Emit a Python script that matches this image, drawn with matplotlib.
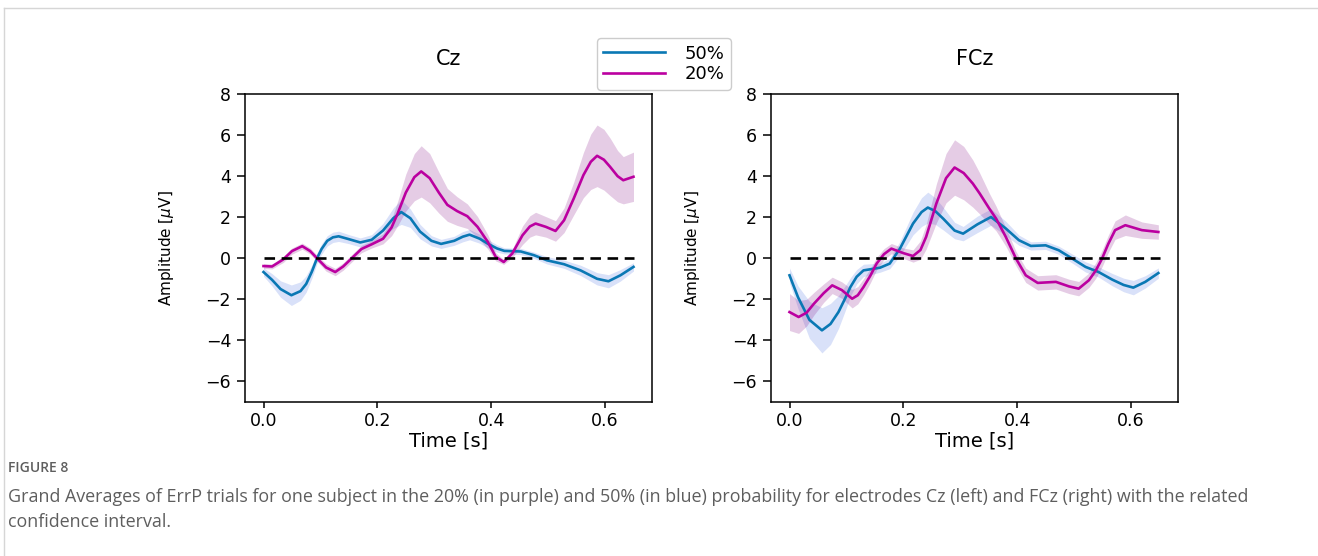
import numpy as np
import matplotlib
matplotlib.use("Agg")
import matplotlib.pyplot as plt
from matplotlib.lines import Line2D
from matplotlib import font_manager

# ---- data (time [s], mean [uV], CI half-width [uV]) ----
cz_50_t = [0.000, 0.015, 0.030, 0.049, 0.065, 0.075, 0.085, 0.094, 0.102, 0.112,
           0.122, 0.132, 0.150, 0.170, 0.190, 0.210, 0.228, 0.242, 0.258, 0.275,
           0.295, 0.312, 0.335, 0.350, 0.362, 0.380, 0.394, 0.410, 0.423, 0.452,
           0.475, 0.498, 0.528, 0.557, 0.586, 0.606, 0.627, 0.650]
cz_50_v = [-0.67, -1.05, -1.50, -1.80, -1.60, -1.25, -0.65, 0.00, 0.45, 0.85,
           1.02, 1.07, 0.93, 0.77, 0.90, 1.35, 1.95, 2.25, 1.95, 1.30,
           0.85, 0.70, 0.85, 1.05, 1.15, 0.95, 0.71, 0.48, 0.36, 0.33,
           0.15, -0.10, -0.29, -0.59, -1.00, -1.12, -0.83, -0.42]
cz_50_ci = [0.20, 0.30, 0.40, 0.50, 0.45, 0.40, 0.32, 0.25, 0.25, 0.25,
            0.25, 0.25, 0.22, 0.22, 0.25, 0.35, 0.50, 0.60, 0.45, 0.35,
            0.25, 0.22, 0.22, 0.25, 0.25, 0.22, 0.20, 0.18, 0.15, 0.15,
            0.15, 0.18, 0.20, 0.25, 0.30, 0.32, 0.28, 0.20]

cz_20_t = [0.000, 0.015, 0.035, 0.050, 0.068, 0.082, 0.094, 0.110, 0.126, 0.140,
           0.155, 0.172, 0.190, 0.210, 0.225, 0.236, 0.250, 0.265, 0.277, 0.292,
           0.308, 0.323, 0.340, 0.358, 0.376, 0.394, 0.408, 0.422, 0.437, 0.455,
           0.468, 0.478, 0.496, 0.513, 0.528, 0.545, 0.562, 0.575, 0.586, 0.598,
           0.609, 0.622, 0.632, 0.650]
cz_20_v = [-0.38, -0.40, -0.05, 0.35, 0.59, 0.35, 0.00, -0.45, -0.67, -0.40,
           0.00, 0.45, 0.68, 0.95, 1.50, 2.20, 3.20, 3.95, 4.23, 3.90,
           3.20, 2.60, 2.30, 2.05, 1.53, 0.80, 0.07, -0.18, 0.23, 1.12,
           1.55, 1.69, 1.53, 1.33, 1.85, 2.91, 4.05, 4.70, 4.99, 4.80,
           4.45, 4.00, 3.80, 3.97]
cz_20_ci = [0.12, 0.12, 0.15, 0.15, 0.15, 0.15, 0.15, 0.18, 0.18, 0.18,
            0.18, 0.18, 0.18, 0.25, 0.40, 0.60, 0.90, 1.15, 1.25, 1.20,
            1.00, 0.80, 0.70, 0.60, 0.50, 0.35, 0.20, 0.12, 0.20, 0.45,
            0.52, 0.55, 0.50, 0.50, 0.60, 0.80, 1.10, 1.35, 1.50, 1.48,
            1.40, 1.25, 1.15, 1.20]

fcz_50_t = [0.000, 0.015, 0.035, 0.057, 0.072, 0.086, 0.097, 0.107, 0.118, 0.130,
            0.159, 0.176, 0.194, 0.217, 0.232, 0.243, 0.256, 0.270, 0.290, 0.305,
            0.330, 0.354, 0.380, 0.403, 0.424, 0.450, 0.473, 0.497, 0.520, 0.543,
            0.567, 0.587, 0.604, 0.625, 0.648]
fcz_50_v = [-0.83, -1.90, -3.00, -3.51, -3.20, -2.62, -2.00, -1.40, -0.90, -0.59,
            -0.46, -0.26, 0.47, 1.69, 2.25, 2.47, 2.30, 1.93, 1.35, 1.20,
            1.65, 2.01, 1.45, 0.88, 0.60, 0.63, 0.39, -0.02, -0.42, -0.67,
            -1.04, -1.30, -1.43, -1.15, -0.72]
fcz_50_ci = [0.35, 0.55, 0.90, 1.10, 1.00, 0.80, 0.62, 0.45, 0.35, 0.30,
             0.22, 0.25, 0.35, 0.55, 0.70, 0.75, 0.65, 0.55, 0.40, 0.35,
             0.40, 0.40, 0.35, 0.25, 0.20, 0.20, 0.20, 0.22, 0.25, 0.25,
             0.30, 0.33, 0.35, 0.30, 0.25]

fcz_20_t = [0.000, 0.016, 0.030, 0.043, 0.060, 0.075, 0.092, 0.110, 0.120, 0.130,
            0.142, 0.153, 0.166, 0.179, 0.200, 0.217, 0.230, 0.240, 0.258, 0.275,
            0.290, 0.306, 0.322, 0.334, 0.351, 0.363, 0.380, 0.398, 0.415, 0.436,
            0.468, 0.491, 0.508, 0.526, 0.538, 0.549, 0.560, 0.572, 0.590, 0.619,
            0.648]
fcz_20_v = [-2.62, -2.86, -2.65, -2.21, -1.70, -1.32, -1.55, -1.97, -1.80, -1.40,
            -0.85, -0.26, 0.20, 0.47, 0.25, 0.11, 0.40, 1.04, 2.67, 3.90,
            4.42, 4.15, 3.64, 3.16, 2.42, 1.93, 1.04, -0.02, -0.83, -1.20,
            -1.15, -1.37, -1.48, -1.07, -0.60, -0.02, 0.70, 1.37, 1.61, 1.37,
            1.28]
fcz_20_ci = [0.90, 0.80, 0.65, 0.55, 0.45, 0.40, 0.40, 0.45, 0.42, 0.40,
             0.35, 0.30, 0.27, 0.25, 0.25, 0.30, 0.45, 0.60, 0.95, 1.20,
             1.35, 1.30, 1.15, 1.00, 0.75, 0.60, 0.45, 0.35, 0.35, 0.35,
             0.35, 0.35, 0.35, 0.35, 0.38, 0.40, 0.42, 0.45, 0.50, 0.40,
             0.35]

T_END = 0.65
YTICKS = [-6, -4, -2, 0, 2, 4, 6, 8]
XTICKS = [0.0, 0.2, 0.4, 0.6]

COLOR_50 = "#0a78b4"
COLOR_20 = "#bb00a0"
FILL_50 = "royalblue"
FILL_20 = "purple"

CAPTION_HEAD = "FIGURE 8"
CAPTION_1 = ("Grand Averages of ErrP trials for one subject in the 20% (in purple) and 50% "
             "(in blue) probability for electrodes Cz (left) and FCz (right) with the related")
CAPTION_2 = "confidence interval."

panels = [
    ("Cz", (cz_50_t, cz_50_v, cz_50_ci), (cz_20_t, cz_20_v, cz_20_ci)),
    ("FCz", (fcz_50_t, fcz_50_v, fcz_50_ci), (fcz_20_t, fcz_20_v, fcz_20_ci)),
]


def narrow_family():
    for fam in ["Liberation Sans Narrow", "DejaVu Sans Condensed"]:
        try:
            font_manager.findfont(fam, fallback_to_default=False)
            return [fam, "DejaVu Sans"]
        except ValueError:
            pass
    return ["DejaVu Sans"]


YLAB_FAMILY = narrow_family()


def draw_panel(ax, title, s50, s20):
    for (t, v, ci), col, fcol, lab in [(s50, COLOR_50, FILL_50, "50%"),
                                        (s20, COLOR_20, FILL_20, "20%")]:
        t, v, ci = np.array(t), np.array(v), np.array(ci)
        ax.fill_between(t, v - ci, v + ci, color=fcol, alpha=0.2, lw=0)
        ax.plot(t, v, color=col, lw=1.9, label=lab, solid_joinstyle="round")
    ax.plot([0, T_END], [0, 0], color="black", ls=(0, (4, 2.5)), lw=1.9)
    ax.set_xlim(-0.0325, 0.6825)
    ax.set_ylim(-7, 8)
    ax.set_xticks(XTICKS)
    ax.set_yticks(YTICKS)
    ax.tick_params(axis="y", labelsize=12.5, width=1.1, length=6, pad=4)
    ax.tick_params(axis="x", labelsize=12.5, width=1.1, length=4, pad=3)
    ax.set_title(title, fontsize=15, pad=21)
    ax.set_xlabel("Time [s]", fontsize=14, labelpad=1)
    ax.set_ylabel(r"Amplitude [$\mu$V]", fontsize=11, family=YLAB_FAMILY)
    ax.yaxis.set_label_coords(-0.17, 0.5)
    for sp in ax.spines.values():
        sp.set_linewidth(1.1)


fig = plt.figure(figsize=(13.18, 5.56), dpi=100)
ax1 = fig.add_axes([245 / 1318, 1 - 402 / 556, 407 / 1318, 308 / 556])
ax2 = fig.add_axes([771 / 1318, 1 - 402 / 556, 407 / 1318, 308 / 556])

for ax, (title, s50, s20) in zip([ax1, ax2], panels):
    draw_panel(ax, title, s50, s20)

handles, labels = ax1.get_legend_handles_labels()
fig.legend(handles, labels, loc="center", bbox_to_anchor=(664 / 1318, 1 - 64 / 556),
           fontsize=13, handlelength=3.4, borderpad=0.35, labelspacing=0.15,
           handletextpad=1.1, framealpha=1.0)

# journal frame lines
fig.add_artist(Line2D([4 / 1318, 1], [1 - 8 / 556, 1 - 8 / 556], color="#d6d6d6", lw=1.0))
fig.add_artist(Line2D([4 / 1318, 4 / 1318], [0, 1 - 8 / 556], color="#d6d6d6", lw=1.0))

fig.text(8 / 1318, 1 - 468 / 556, CAPTION_HEAD, fontsize=10, color="#5e5e5e",
         family="Open Sans", weight="semibold", va="center")
fig.text(8 / 1318, 1 - 497 / 556, CAPTION_1, fontsize=12.9, color="#5e5e5e",
         family="Open Sans", va="center")
fig.text(8 / 1318, 1 - 522 / 556, CAPTION_2, fontsize=12.9, color="#5e5e5e",
         family="Open Sans", va="center")

fig.savefig("out.png", dpi=100)
